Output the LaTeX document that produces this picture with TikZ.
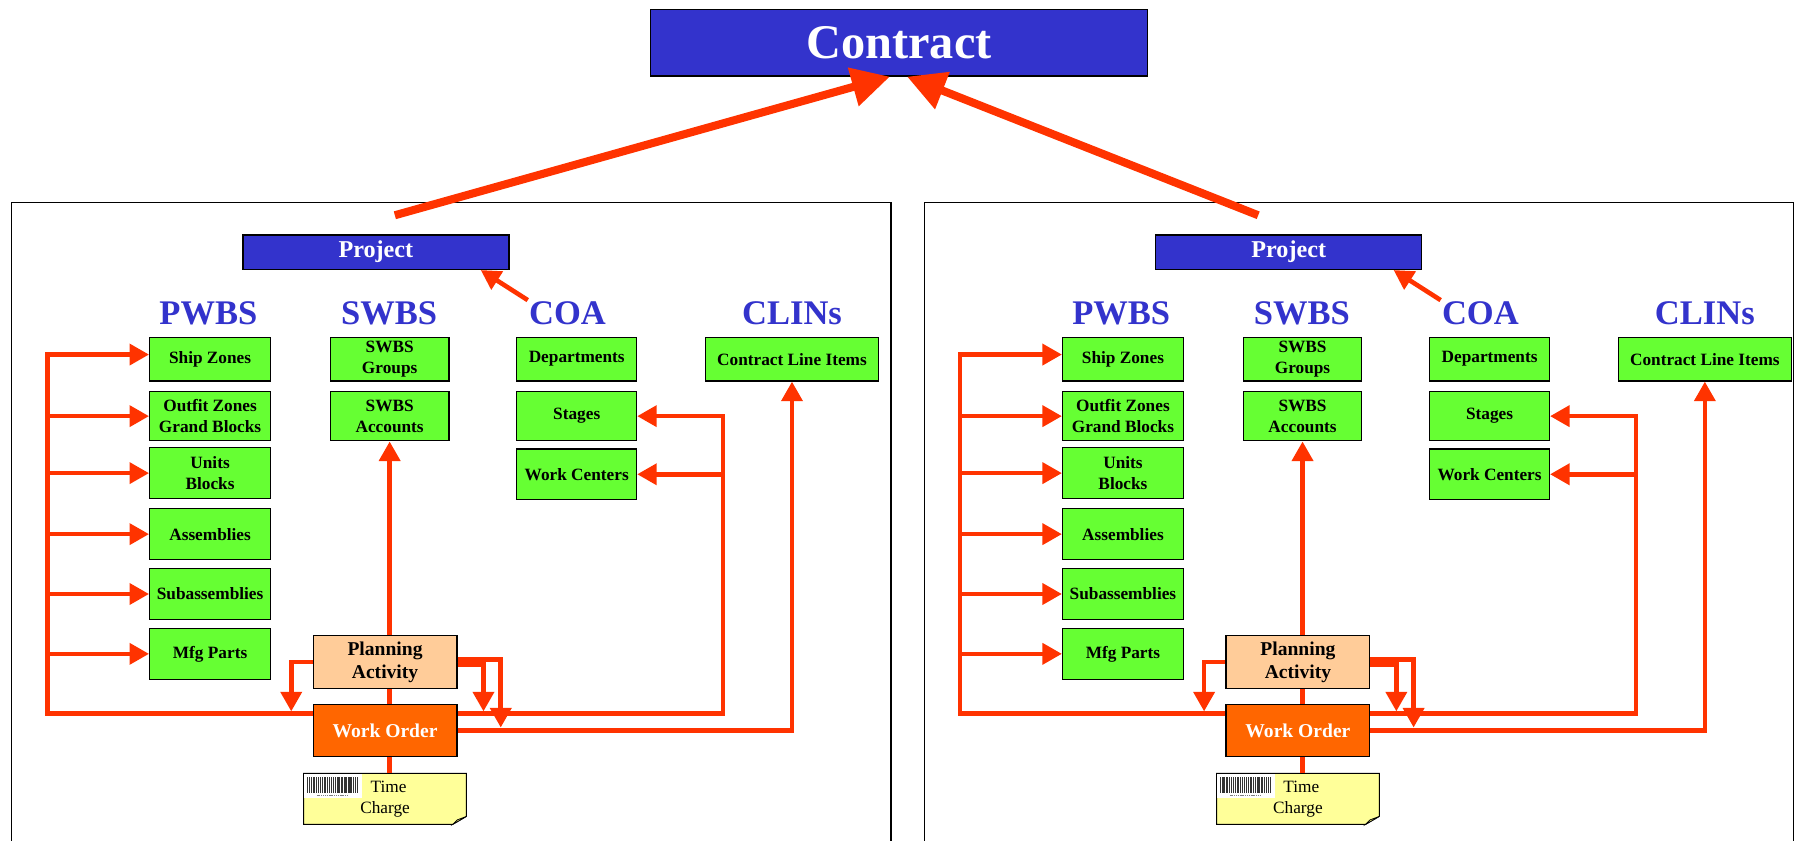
\documentclass[tikz,border=0pt]{standalone}
\usepackage{fontspec}
\setmainfont{Liberation Serif}
\usetikzlibrary{arrows.meta}

\definecolor{titleblue}{HTML}{3333CC}
\definecolor{wbsgreen}{HTML}{66FF33}
\definecolor{planpeach}{HTML}{FFCC99}
\definecolor{orderorange}{HTML}{FF6600}
\definecolor{linkred}{HTML}{FF3300}
\definecolor{noteyellow}{HTML}{FFFF99}
\definecolor{foldyellow}{HTML}{E2E07A}

\begin{document}
\begin{tikzpicture}[x=1pt,y=-1pt,>={Triangle[length=17pt,width=18pt]},
                    line join=miter]
  \tikzstyle{wbs}=[draw=black,fill=wbsgreen,line width=1pt,minimum height=44pt,inner sep=0pt,align=center,font=\fontsize{15}{18}\selectfont\bfseries]
  \tikzstyle{titlebox}=[draw=black,fill=titleblue,line width=1.2pt,text=white,inner sep=0pt]
  \tikzstyle{headtxt}=[text=titleblue,inner sep=1pt,font=\fontsize{30}{34}\selectfont\bfseries]
  \tikzstyle{plan}=[draw=black,fill=planpeach,line width=1pt,minimum width=125pt,minimum height=46pt,inner sep=0pt,align=center,font=\fontsize{17}{20}\selectfont\bfseries]
  \tikzstyle{order}=[draw=black,fill=orderorange,line width=1pt,text=white,minimum width=125pt,minimum height=45pt,inner sep=0pt,font=\fontsize{17}{20}\selectfont\bfseries]
  \tikzstyle{note}=[fill=noteyellow,minimum width=141pt,minimum height=44pt,inner sep=0pt,align=center,font=\fontsize{15}{18}\selectfont]
  \tikzstyle{link}=[draw=linkred,line width=4pt]
  \tikzstyle{biglink}=[draw=linkred,line width=7pt,>={Triangle[length=33pt,width=33pt]}]
  \tikzstyle{panel}=[draw=black,line width=1.5pt,fill=white]

  \useasboundingbox (0,0) rectangle (1568,730);

  \node[titlebox,minimum width=432pt,minimum height=58pt,font=\fontsize{42}{46}\selectfont\bfseries] (contract) at (781,37) {Contract};

  \foreach \p/\dx/\fw in {L/0/764,R/793/755} {
  \begin{scope}[xshift=\dx pt]
    \draw[panel] (10,176) rectangle ++(\fw,570);

    \node[titlebox,minimum width=231pt,minimum height=30pt,font=\fontsize{21}{24}\selectfont\bfseries] (\p-proj) at (326.5,219) {Project};
    \node[headtxt] (\p-pwbs)  at (181,272) {PWBS};
    \node[headtxt] (\p-swbs)  at (338,272) {SWBS};
    \node[headtxt] (\p-coa)   at (493,272) {COA};
    \node[headtxt] (\p-clins) at (688,272) {CLINs};

    % PWBS
    \node[wbs,minimum width=105pt,minimum height=38pt] (\p-ship)   at (182.5,312)   {Ship Zones};
    \node[wbs,minimum width=105pt,minimum height=43pt] (\p-outfit) at (182.5,361.5) {Outfit Zones\\Grand Blocks};
    \node[wbs,minimum width=105pt] (\p-units) at (182.5,411) {Units\\Blocks};
    \node[wbs,minimum width=105pt] (\p-asm)   at (182.5,464) {Assemblies};
    \node[wbs,minimum width=105pt] (\p-sub)   at (182.5,516) {Subassemblies};
    \node[wbs,minimum width=105pt] (\p-mfg)   at (182.5,568) {Mfg Parts};
    % SWBS
    \node[wbs,minimum width=103pt,minimum height=38pt] (\p-grp) at (338.5,312)   {SWBS\\Groups};
    \node[wbs,minimum width=103pt,minimum height=43pt] (\p-acc) at (338.5,361.5) {SWBS\\Accounts};
    % COA
    \node[wbs,minimum width=104pt,minimum height=38pt] (\p-dep) at (501,312)   {Departments};
    \node[wbs,minimum width=104pt,minimum height=43pt] (\p-stg) at (501,361.5) {Stages};
    \node[wbs,minimum width=104pt] (\p-wc) at (501,412) {Work Centers};
    % CLINs
    \node[wbs,minimum width=150pt,minimum height=38pt] (\p-cli) at (688,312) {Contract Line Items};

    \node[plan]  (\p-pa) at (334.5,575)   {Planning\\Activity};
    \node[order] (\p-wo) at (334.5,634.5) {Work Order};
    \node[note]  (\p-tc) at (334.5,694)   {\hspace*{6pt}Time\\Charge};

    % time charge note
    \fill[white] ([yshift=7pt]\p-tc.south east) -- (\p-tc.south east) -- ([xshift=-12pt]\p-tc.south east) -- cycle;
    \draw[line width=0.8pt] (\p-tc.north west) -- (\p-tc.north east) -- ([yshift=7pt]\p-tc.south east)
      -- ([xshift=-12pt]\p-tc.south east) -- (\p-tc.south west) -- cycle;
    \filldraw[fill=foldyellow,line width=0.6pt] ([yshift=7pt]\p-tc.south east) -- ([xshift=-12pt]\p-tc.south east)
      -- ([xshift=-8pt,yshift=4pt]\p-tc.south east) -- cycle;
    \fill[white] ([shift={(0.5,0.5)}]\p-tc.north west) rectangle ++(50,21);
    \foreach \bx/\bw in {3/1,4.8/0.6,6/1.2,8/0.6,9.2/1,11/0.6,12.3/1.4,14.5/0.6,15.7/1,17.5/0.6,18.6/1.2,
                         20.6/0.6,21.8/1,23.6/1.4,25.8/0.6,27/1,28.8/0.6,30/1.2,32/0.6,33.2/1,35/0.6,
                         36.3/1.4,38.5/0.6,39.7/1,41.5/0.6,42.7/1.2,44.7/0.6,46/1}
      \fill[black!80] ([shift={(\bx,3)}]\p-tc.north west) rectangle ++(\bw,14);
    \draw[gray,line width=0.6pt,dash pattern=on 1pt off 0.6pt] ([shift={(12,19)}]\p-tc.north west) -- ++(26,0);

    % connectors
    \coordinate (\p-busT) at (41,308);
    \coordinate (\p-busB) at (41,620);
    \coordinate (\p-coaB) at (628,620);
    \coordinate (\p-paL)  at (253,618);
    \coordinate (\p-paR1) at (420,618);
    \coordinate (\p-paR2) at (435,632);

    \draw[link,->] (\p-wo.west |- \p-busB) -- (\p-busB) -- (\p-busT) -- (\p-busT -| \p-ship.west);
    \foreach \b in {outfit,units,asm,sub,mfg}
      \draw[link,->] (\p-busT |- \p-\b) -- (\p-\b);
    \draw[link,->] (\p-wo.east |- \p-busB) -- (\p-coaB) -- (\p-coaB |- \p-stg) -- (\p-stg);
    \draw[link,->] (\p-coaB |- \p-wc) -- (\p-wc);
    \draw[link,->] (\p-wo) -| (\p-cli);

    \draw[link] (\p-tc.north -| \p-acc) -- (\p-wo.south -| \p-acc);
    \draw[link] (\p-wo.north -| \p-acc) -- (\p-pa.south -| \p-acc);
    \draw[link,->] (\p-pa.north -| \p-acc) -- (\p-acc);

    \draw[link,->] (\p-pa.west) -| (\p-paL);
    \draw[link,->] ([yshift=2pt]\p-pa.east) -| (\p-paR2);
    \draw[link,->] ([yshift=-2pt]\p-pa.east) -| (\p-paR1);

    \draw[link,->] (\p-coa.north west) -- ([xshift=-25pt]\p-proj.south east);
  \end{scope}
  }

  \coordinate (L-up) at (343,187);
  \coordinate (R-up) at (1093,187);
  \draw[biglink,->] (L-up) -- ([xshift=-8pt]contract.south);
  \draw[biglink,->] (R-up) -- ([xshift=7pt]contract.south);
\end{tikzpicture}
\end{document}
